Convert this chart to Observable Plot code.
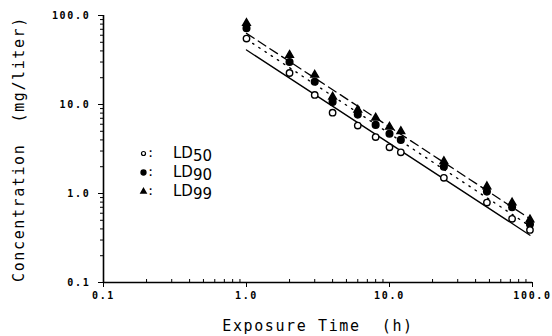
<!DOCTYPE html>
<html>
<head>
<meta charset="utf-8">
<script src="https://cdn.jsdelivr.net/npm/d3@7"></script>
<script src="https://cdn.jsdelivr.net/npm/@observablehq/plot@0.6"></script>
<style>
  html, body { margin: 0; padding: 0; background: #fff; }
  svg { display: block; }
  g[aria-label="x-axis tick label"] text, g[aria-label="y-axis tick label"] text { letter-spacing: 1.7px; }
  .pre text { white-space: pre; letter-spacing: 1.6px; }
</style>
</head>
<body>
<div id="chart"></div>
<script>
// Data
const hours = [1, 2, 3, 4, 6, 8, 10, 12, 24, 48, 72, 96];
const ld50 = [55, 22.6, 12.8, 8.1, 5.8, 4.3, 3.3, 2.9, 1.5, 0.79, 0.52, 0.39];
const ld90 = [72, 30, 18, 10.7, 7.7, 5.9, 4.7, 4.0, 2.0, 1.05, 0.70, 0.45];
const ld99 = [82, 36, 21.5, 12.2, 8.7, 7.1, 5.6, 5.0, 2.3, 1.2, 0.79, 0.51];

// Fitted regression lines (end points)
const fitHours = [1, 96];
const fit50 = [41, 0.34];
const fit90 = [54, 0.43];
const fit99 = [63, 0.52];

const majorTicks = [0.1, 1, 10, 100];
const minorTicks = [0.2,0.3,0.4,0.5,0.6,0.7,0.8,0.9,2,3,4,5,6,7,8,9,20,30,40,50,60,70,80,90];

const legendSeries = ["50", "90", "99"];
const xLabel = "Exposure Time  (h)";
const yLabel = "Concentration  (mg/liter)";

const pts = (ys) => hours.map((h, i) => ({h, v: ys[i]}));
const fit = (ys) => fitHours.map((h, i) => ({h, v: ys[i]}));

const mono = "DejaVu Sans Mono";
const fmt = d3.format(".1f");

const chart = Plot.plot({
  width: 552,
  height: 336,
  marginLeft: 103,
  marginRight: 20,
  marginTop: 15,
  marginBottom: 54,
  x: {type: "log", domain: [0.1, 100]},
  y: {type: "log", domain: [0.1, 100]},
  style: {fontFamily: mono, background: "#fff", color: "#000"},
  marks: [
    Plot.ruleX([0.1], {stroke: "#000", strokeWidth: 1.6}),
    Plot.ruleY([0.1], {stroke: "#000", strokeWidth: 1.6}),
    Plot.axisY({ticks: majorTicks, tickFormat: fmt, tickSize: 5, tickPadding: 8, fontSize: 10, fontWeight: "bold", label: null}),
    Plot.axisY({ticks: minorTicks, tickFormat: () => "", tickSize: 3, label: null}),
    Plot.axisX({ticks: majorTicks, tickFormat: fmt, tickSize: 5, tickPadding: 4, fontSize: 10, fontWeight: "bold", label: null}),
    Plot.axisX({ticks: minorTicks, tickFormat: () => "", tickSize: -3, label: null}),
    // regression lines
    Plot.line(fit(fit50), {x: "h", y: "v", stroke: "#000", strokeWidth: 1.3}),
    Plot.line(fit(fit90), {x: "h", y: "v", stroke: "#000", strokeWidth: 1.4, strokeDasharray: "1.4,6"}),
    Plot.line(fit(fit99), {x: "h", y: "v", stroke: "#000", strokeWidth: 1.3, strokeDasharray: "9,5"}),
    // data points
    Plot.dot(pts(ld99), {x: "h", y: "v", symbol: "triangle", r: 2.8, fill: "#000", stroke: "#000"}),
    Plot.dot(pts(ld90), {x: "h", y: "v", symbol: "circle", r: 3.3, fill: "#000", stroke: "#000"}),
    Plot.dot(pts(ld50), {x: "h", y: "v", symbol: "circle", r: 3.2, fill: "#fff", stroke: "#000", strokeWidth: 1.4}),
    // legend markers
    Plot.dot([0], {frameAnchor: "top-left", dx: 40, dy: 138, r: 2, fill: "#fff", stroke: "#000", strokeWidth: 1.2}),
    Plot.dot([0], {frameAnchor: "top-left", dx: 40, dy: 157, r: 2.4, fill: "#000", stroke: "#000"}),
    Plot.dot([0], {frameAnchor: "top-left", dx: 40, dy: 176, symbol: "triangle", r: 1.9, fill: "#000", stroke: "#000"}),
    // axis titles
    Plot.text([xLabel], {frameAnchor: "bottom", dy: 48, fontSize: 15, fontFamily: mono, className: "pre"}),
    Plot.text([yLabel], {frameAnchor: "left", dx: -84, rotate: -90, textAnchor: "middle", fontSize: 15, fontFamily: mono, className: "pre"})
  ]
});

document.getElementById("chart").appendChild(chart);

// Legend labels (LD with subscript) drawn as SVG text in frame coordinates
const svg = d3.select(chart);
const rows = [138, 157, 176];
const g = svg.append("g").attr("font-family", "DejaVu Sans").attr("font-size", 15).attr("text-anchor", "start");
legendSeries.forEach((s, i) => {
  const y = 15 + rows[i];
  g.append("text").attr("x", 103 + 44).attr("y", y + 4).attr("font-family", mono).attr("font-size", 12).text(":");
  const t = g.append("text").attr("x", 103 + 70).attr("y", y + 5);
  t.append("tspan").text("LD");
  t.append("tspan").attr("dy", 3).text(s);
});
</script>
</body>
</html>
